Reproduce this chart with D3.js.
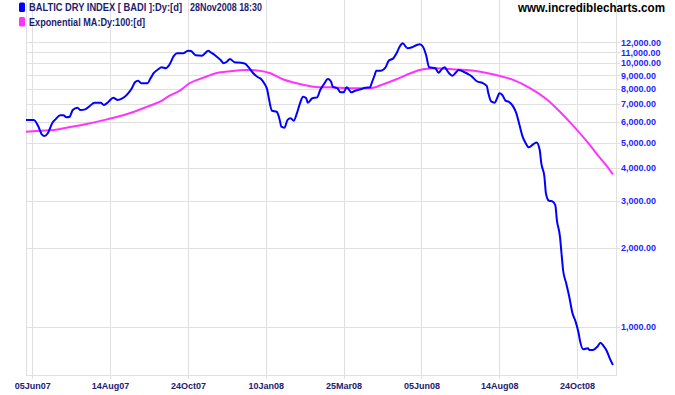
<!DOCTYPE html>
<html>
<head>
<meta charset="utf-8">
<script src="https://cdn.jsdelivr.net/npm/d3@7"></script>
<style>
  html, body { margin: 0; padding: 0; background: #ffffff; }
  svg { display: block; }
  text { font-family: "Liberation Sans", Arial, sans-serif; }
</style>
</head>
<body>
<div id="chart"></div>
<script>
// ---- Data (trading-day index from 30 May 2007 to 28 Nov 2008) ----
const bdiDays = [0,5,8,10,12,14,17,19,22,24,26,28,30,33,35,38,41,44,48,50,53,56,59,63,66,68,70,72,74,78,80,82,85,87,90,92,95,97,101,104,106,109,113,115,117,119,122,125,127,129,131,134,138,141,143,146,149,151,153,155,156,158,161,163,164,166,168,170,172,174,176,178,180,181,184,187,189,191,194,196,197,200,202,204,206,209,211,215,218,221,222,224,225,228,231,233,236,238,240,242,245,248,251,253,255,257,259,263,265,267,269,271,274,276,278,281,285,286,290,293,296,297,299,301,303,304,306,308,310,313,315,317,319,321,323,326,328,330,331,333,334,336,338,340,341,343,344,345,347,349,351,353,355,356,358,361,362,364,367,369,371,373,375,377];
const bdiValues = [6100,6100,5750,5390,5300,5430,5950,6130,6350,6350,6240,6270,6650,6790,6650,6690,6890,7090,7090,6950,7150,7400,7260,7430,7740,8040,8470,8590,8400,8400,8770,9170,9490,9660,9580,9850,10660,10910,10910,11160,11130,10720,10690,10910,11160,10970,10660,10290,10000,10140,10380,10090,10050,9940,9660,9170,8850,8720,8400,7920,7370,6610,6550,6100,5750,5700,6100,6190,6060,6460,7050,7470,7370,7090,7370,7430,7920,8270,8720,8520,8150,8040,7760,7760,8110,7760,7850,7970,8080,8110,8400,9030,9380,9380,9660,10230,10450,10910,11560,11910,11400,11500,11730,11800,11560,10750,9660,9580,9210,9490,9660,9290,8970,9210,9430,9290,9030,8950,8520,8440,8200,7700,7150,7090,7470,7700,7580,7220,7150,6850,6460,5830,5270,4970,4800,4940,5010,4690,4180,3720,3210,3010,3000,2900,2550,2200,1900,1645,1465,1300,1130,1050,947,880,823,830,818,818,842,872,847,813,761,718];

const emaDays = [0,9,18,26,39,52,65,78,86,92,99,105,114,122,131,142,150,157,165,174,182,189,195,208,221,230,238,247,255,264,272,283,292,302,313,324,335,343,352,360,369,373,377];
const emaValues = [5500,5550,5590,5700,5890,6130,6420,6850,7150,7520,7890,8400,8820,9170,9330,9430,9380,9170,8700,8400,8200,8110,8110,8040,8040,8350,8700,9170,9490,9580,9510,9430,9290,9030,8650,8040,7260,6550,5750,5080,4360,4080,3790];

const xTickDays = [4,54,104,154,204,254,304,354];
const xTickLabels = ["05Jun07","14Aug07","24Oct07","10Jan08","25Mar08","05Jun08","14Aug08","24Oct08"];
const yTickValues = [1000,2000,3000,4000,5000,6000,7000,8000,9000,10000,11000,12000];

const legendLabels = ["BALTIC DRY INDEX [ BADI ]:Dy:[d]", "Exponential MA:Dy:100:[d]"];
const legendStamp = "28Nov2008 18:30";
const watermark = "www.incrediblecharts.com";

// ---- Layout ----
const W = 675, H = 395;
const pLeft = 26, pRight = 616, pBottom = 375, pTop = 0;
const blue = "#0000ff", magenta = "#ff33ff", grid = "#e0e0e0";

const svg = d3.select("#chart").append("svg").attr("width", W).attr("height", H);

const x = d3.scaleLinear().domain([0, 379]).range([pLeft, pRight]);
const y = d3.scaleLog().domain([1000, 10000]).range([327, 63.3]);

// gridlines
const g = svg.append("g");
g.selectAll("line.hg").data(yTickValues).enter().append("line")
  .attr("x1", pLeft).attr("x2", pRight + 4)
  .attr("y1", d => Math.round(y(d)) + 0.5).attr("y2", d => Math.round(y(d)) + 0.5)
  .attr("stroke", grid).attr("stroke-width", 1);
g.selectAll("line.vg").data(xTickDays).enter().append("line")
  .attr("x1", d => Math.round(x(d)) + 0.5).attr("x2", d => Math.round(x(d)) + 0.5)
  .attr("y1", pTop).attr("y2", pBottom + 4)
  .attr("stroke", grid).attr("stroke-width", 1);
// frame
g.append("line").attr("x1", pLeft + 0.5).attr("x2", pLeft + 0.5).attr("y1", pTop).attr("y2", pBottom + 0.5).attr("stroke", grid);
g.append("line").attr("x1", pRight + 0.5).attr("x2", pRight + 0.5).attr("y1", pTop).attr("y2", pBottom + 0.5).attr("stroke", grid);
g.append("line").attr("x1", pLeft).attr("x2", pRight + 1).attr("y1", pBottom + 0.5).attr("y2", pBottom + 0.5).attr("stroke", grid);

// y labels
svg.selectAll("text.yl").data(yTickValues).enter().append("text")
  .attr("x", pRight + 5).attr("y", d => y(d)).attr("dy", "0.35em")
  .attr("font-size", 9).attr("font-weight", "bold").attr("fill", "#1f1fff")
  .text(d => d3.format(",.2f")(d));

// x labels
svg.selectAll("text.xl").data(xTickDays).enter().append("text")
  .attr("x", d => x(d) + 0.5).attr("y", 389).attr("text-anchor", "middle")
  .attr("font-size", 9).attr("font-weight", "bold").attr("fill", "#22206e")
  .text((d, i) => xTickLabels[i]);

// lines
const emaData = emaDays.map((d, i) => [d, emaValues[i]]);
const bdiData = bdiDays.map((d, i) => [d, bdiValues[i]]);

svg.append("path").datum(emaData)
  .attr("d", d3.line().x(d => x(d[0])).y(d => y(d[1])).curve(d3.curveMonotoneX))
  .attr("fill", "none").attr("stroke", magenta).attr("stroke-width", 2);
svg.append("path").datum(bdiData)
  .attr("d", d3.line().x(d => x(d[0])).y(d => y(d[1])).curve(d3.curveMonotoneX))
  .attr("fill", "none").attr("stroke", blue).attr("stroke-width", 2);

// legend
const legColors = [blue, magenta];
const legY = [11, 25.5];
const legW = [153, 116];
legendLabels.forEach((t, i) => {
  svg.append("rect").attr("x", 19).attr("y", legY[i] - 8.5).attr("width", 6).attr("height", 9.5)
    .attr("rx", 1.5).attr("fill", legColors[i]);
  svg.append("text").attr("x", 29).attr("y", legY[i])
    .attr("font-size", 10).attr("font-weight", "bold").attr("fill", "#1c1c6e")
    .attr("textLength", legW[i]).attr("lengthAdjust", "spacingAndGlyphs")
    .text(t);
});
svg.append("text").attr("x", 190).attr("y", legY[0])
  .attr("font-size", 10).attr("font-weight", "bold").attr("fill", "#1c1c6e")
  .attr("textLength", 72).attr("lengthAdjust", "spacingAndGlyphs")
  .text(legendStamp);

// watermark
svg.append("text").attr("x", 518).attr("y", 12)
  .attr("font-size", 12).attr("font-weight", "bold").attr("fill", "#000000")
  .attr("textLength", 147).attr("lengthAdjust", "spacingAndGlyphs")
  .text(watermark);
</script>
</body>
</html>
